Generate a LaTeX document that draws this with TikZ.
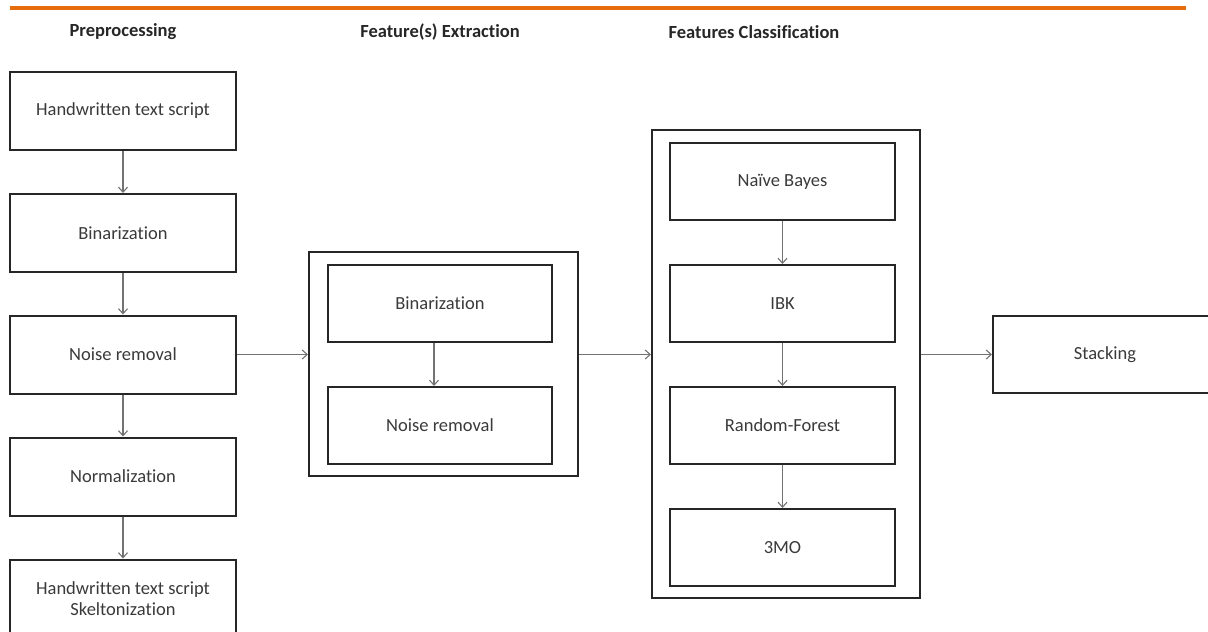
\documentclass[tikz,border=0pt]{standalone}
\usepackage{fontspec}
\setmainfont{Carlito}[RawFeature={-liga}]
\usepackage{xcolor}
\usepackage{tikz}
\usetikzlibrary{arrows.meta,positioning,calc}

\definecolor{barorange}{HTML}{E46C0A}
\definecolor{txtgray}{HTML}{3A3A3A}

\begin{document}
\begin{tikzpicture}[x=1pt,y=-1pt,
	stepbox/.style={draw=black!85,line width=2pt,minimum width=226pt,minimum height=78pt,
		inner sep=0pt,align=center,text=txtgray,font=\fontsize{18.5}{21}\selectfont},
	frame/.style={draw=black!85,line width=2pt,inner sep=0pt},
	head/.style={text=black!85,font=\fontsize{18.5}{21}\selectfont\bfseries},
	flow/.style={draw=black!55,line width=1.1pt,-{Straight Barb[length=5pt,width=9pt]}}]
	\useasboundingbox (0,0) rectangle (1208,632);
	\draw[barorange,line width=4pt] (10,8)--(1186,8);
	% column titles
	\node[head] (hpre) at (123,32) {Preprocessing};
	\node[head] (hext) at (440,32) {Feature(s) Extraction};
	\node[head] (hcls) at (754,32) {Features Classification};
	% preprocessing
	\node[stepbox] (p1) at (123,111) {Handwritten text script};
	\node[stepbox] (p2) at (123,233) {Binarization};
	\node[stepbox] (p3) at (123,354.5) {Noise removal};
	\node[stepbox] (p4) at (123,476.5) {Normalization};
	\node[stepbox] (p5) at (123,598.5) {Handwritten text script\\Skeltonization};
	\draw[flow] (p1)--(p2);
	\draw[flow] (p2)--(p3);
	\draw[flow] (p3)--(p4);
	\draw[flow] (p4)--(p5);
	% extraction
	\node[frame,minimum width=269pt,minimum height=224pt] (ext) at (443.5,364) {};
	\node[stepbox,minimum width=224pt,minimum height=77pt] (e1) at (440,303.5) {Binarization};
	\node[stepbox,minimum width=224pt,minimum height=77pt] (e2) at (440,425.5) {Noise removal};
	\draw[flow] ([xshift=-6pt]e1.south)--([xshift=-6pt]e2.north);
	% classification
	\node[frame,minimum width=268pt,minimum height=468pt] (cls) at (786,364) {};
	\node[stepbox,minimum width=225pt,minimum height=77pt] (c1) at (782.5,181.5) {Naïve Bayes};
	\node[stepbox,minimum width=225pt,minimum height=77pt] (c2) at (782.5,303.5) {IBK};
	\node[stepbox,minimum width=225pt,minimum height=77pt] (c3) at (782.5,425.5) {Random-Forest};
	\node[stepbox,minimum width=225pt,minimum height=77pt] (c4) at (782.5,547.5) {3MO};
	\draw[flow] (c1)--(c2);
	\draw[flow] (c2)--(c3);
	\draw[flow] (c3)--(c4);
	% stacking
	\node[stepbox,minimum width=224pt,minimum height=77pt] (stk) at (1105,354.5) {Stacking};
	\draw[flow] (p3.east)--(p3.east -| ext.west);
	\draw[flow] (ext.east |- p3)--(cls.west |- p3);
	\draw[flow] (cls.east |- stk)--(stk.west);
\end{tikzpicture}
\end{document}
